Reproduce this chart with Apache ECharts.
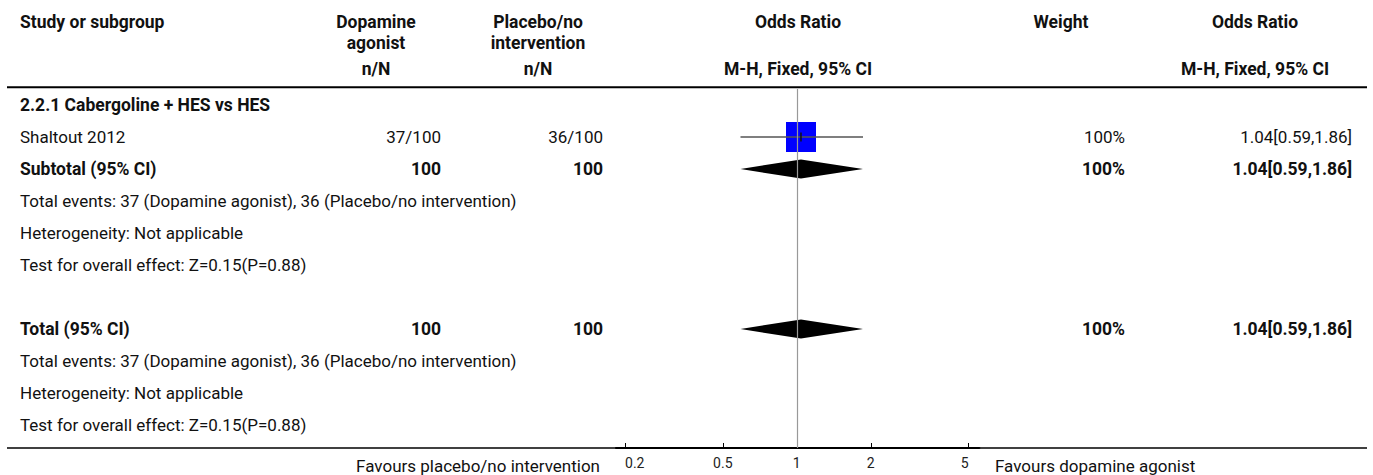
<!DOCTYPE html>
<html>
<head>
<meta charset="utf-8">
<script src="https://cdn.jsdelivr.net/npm/echarts@6/dist/echarts.min.js"></script>
<style>
  html, body { margin: 0; padding: 0; background: #fff; }
  #chart { width: 1373px; height: 475px; }
</style>
</head>
<body>
<div id="chart"></div>
<script>
// ---- data ----------------------------------------------------------------
const rowText = [
  '2.2.1 Cabergoline + HES vs HES',
  'Shaltout 2012',
  'Subtotal (95% CI)',
  'Total events: 37 (Dopamine agonist), 36 (Placebo/no intervention)',
  'Heterogeneity: Not applicable',
  'Test for overall effect: Z=0.15(P=0.88)',
  '',
  'Total (95% CI)',
  'Total events: 37 (Dopamine agonist), 36 (Placebo/no intervention)',
  'Heterogeneity: Not applicable',
  'Test for overall effect: Z=0.15(P=0.88)'
];
// row role: group heading, single study, pooled (subtotal / total), note, blank
const rowKind = ['group', 'study', 'pooled', 'note', 'note', 'note', 'blank', 'pooled', 'note', 'note', 'note'];
const agonistCol = ['', '37/100', '100', '', '', '', '', '100', '', '', ''];
const placeboCol = ['', '36/100', '100', '', '', '', '', '100', '', '', ''];
const oddsRatio = [null, 1.04, 1.04, null, null, null, null, 1.04, null, null, null];
const ciLower   = [null, 0.59, 0.59, null, null, null, null, 0.59, null, null, null];
const ciUpper   = [null, 1.86, 1.86, null, null, null, null, 1.86, null, null, null];
const weightPct = [null, 100, 100, null, null, null, null, 100, null, null, null];
const axisTicks = [0.2, 0.5, 1, 2, 5];
const favoursLeft = 'Favours placebo/no intervention';
const favoursRight = 'Favours dopamine agonist';

// ---- layout & style --------------------------------------------------------
const FONT = 'Roboto, "Open Sans", sans-serif';
const FS = 17;
const FS_BOLD = 17.5;
const TXT = '#111';
const W = 1373, H = 475;
const ROW_TOP = 89;          // top of the plot band, just under the header rule
const ROW_H = 32;
const AXIS_Y = 448;
const PLOT_L = 616, PLOT_R = 979.4;
const X_MIN = -0.7358, X_MAX = 0.7432;  // log10 odds ratio range of the plot
const BOX_MAX = 30;
const DIAMOND_HALF = 9.5;

const col = {
  study:   { x: 20 },
  agonist: { right: 441, center: 376 },
  placebo: { right: 603, center: 538 },
  plot:    { center: 798 },
  weight:  { right: 1125, center: 1061 },
  orText:  { right: 1352, center: 1255 }
};

const fmt2 = v => v.toFixed(2);

// forest marks: [log OR, row, log lo, log hi, weight, kind(0 study / 1 pooled)]
const markData = [];
rowKind.forEach((k, i) => {
  if (oddsRatio[i] == null) return;
  markData.push([
    Math.log10(oddsRatio[i]), i,
    Math.log10(ciLower[i]), Math.log10(ciUpper[i]),
    weightPct[i], k === 'study' ? 0 : 1
  ]);
});

const chart = echarts.init(document.getElementById('chart'), null, { renderer: 'svg', width: W, height: H });

chart.setOption({
  animation: false,
  backgroundColor: '#fff',
  grid: { left: PLOT_L, right: W - PLOT_R, top: ROW_TOP, bottom: H - AXIS_Y, containLabel: false },
  xAxis: {
    type: 'value',
    min: X_MIN, max: X_MAX,
    axisLine: { show: true, onZero: false, lineStyle: { color: '#000', width: 2 } },
    axisTick: {
      show: true, inside: true, length: 5,
      customValues: axisTicks.map(v => Math.log10(v)),
      lineStyle: { color: '#000', width: 1 }
    },
    axisLabel: {
      show: true,
      customValues: axisTicks.map(v => Math.log10(v)),
      formatter: v => {
        const t = axisTicks.find(a => Math.abs(Math.log10(a) - v) < 1e-6);
        return t == null ? '' : String(t);
      },
      alignMinLabel: 'left', alignMaxLabel: 'right',
      margin: 8, color: '#222', fontSize: 14, fontFamily: FONT
    },
    splitLine: { show: false }
  },
  yAxis: {
    type: 'value', inverse: true,
    min: -0.5, max: -0.5 + (AXIS_Y - ROW_TOP) / ROW_H,
    show: false
  },
  series: [
    {
      type: 'line', data: [], silent: true,
      markLine: {
        silent: true, symbol: 'none', label: { show: false },
        lineStyle: { color: '#999', width: 1.2, type: 'solid' },
        data: [{ xAxis: Math.log10(1) }]
      }
    },
    {
      type: 'custom',
      data: markData,
      encode: { x: [0, 2, 3], y: 1 },
      renderItem: (params, api) => {
        const est = api.coord([api.value(0), api.value(1)]);
        const lo = api.coord([api.value(2), api.value(1)]);
        const hi = api.coord([api.value(3), api.value(1)]);
        const kind = api.value(5);
        if (kind === 1) {
          return {
            type: 'polygon',
            shape: { points: [[lo[0], lo[1]], [est[0], est[1] - DIAMOND_HALF], [hi[0], hi[1]], [est[0], est[1] + DIAMOND_HALF]] },
            style: { fill: '#000' }
          };
        }
        const s = BOX_MAX * Math.sqrt(api.value(4) / 100);
        return {
          type: 'group',
          children: [
            { type: 'rect', shape: { x: est[0] - s / 2, y: est[1] - s / 2, width: s, height: s }, style: { fill: '#0000ff' } },
            { type: 'line', shape: { x1: lo[0], y1: lo[1], x2: hi[0], y2: hi[1] }, style: { stroke: '#555', lineWidth: 1.5 } },
            { type: 'line', shape: { x1: est[0], y1: est[1] - 4.5, x2: est[0], y2: est[1] + 4.5 }, style: { stroke: '#111', lineWidth: 1.5 } }
          ]
        };
      }
    }
  ]
});

// ---- table text ------------------------------------------------------------
const rowY = i => chart.convertToPixel({ yAxisIndex: 0 }, i);

function txt(text, x, y, align, bold) {
  return {
    type: 'text', silent: true,
    style: {
      text, x, y, align, verticalAlign: 'middle',
      fontFamily: FONT, fontSize: bold ? FS_BOLD : FS, fontWeight: bold ? 'bold' : 'normal',
      fill: TXT
    }
  };
}

const g = [];
// header
const H1 = 21.7, H2 = 43.3, H3 = 69;
g.push(txt('Study or subgroup', col.study.x, H1, 'left', true));
g.push(txt('Dopamine', col.agonist.center, H1, 'center', true));
g.push(txt('agonist', col.agonist.center, H2, 'center', true));
g.push(txt('Placebo/no', col.placebo.center, H1, 'center', true));
g.push(txt('intervention', col.placebo.center, H2, 'center', true));
g.push(txt('Odds Ratio', col.plot.center, H1, 'center', true));
g.push(txt('Weight', col.weight.center, H1, 'center', true));
g.push(txt('Odds Ratio', col.orText.center, H1, 'center', true));
g.push(txt('n/N', col.agonist.center, H3, 'center', true));
g.push(txt('n/N', col.placebo.center, H3, 'center', true));
g.push(txt('M-H, Fixed, 95% CI', col.plot.center, H3, 'center', true));
g.push(txt('M-H, Fixed, 95% CI', col.orText.center, H3, 'center', true));

// rules
g.push({ type: 'line', silent: true, shape: { x1: 7, y1: 87.3, x2: 1367, y2: 87.3 }, style: { stroke: '#000', lineWidth: 2 } });
g.push({ type: 'line', silent: true, shape: { x1: 7, y1: AXIS_Y, x2: PLOT_L, y2: AXIS_Y }, style: { stroke: '#000', lineWidth: 1.5 } });
g.push({ type: 'line', silent: true, shape: { x1: PLOT_R, y1: AXIS_Y, x2: 1367, y2: AXIS_Y }, style: { stroke: '#000', lineWidth: 1.5 } });

// body rows
rowText.forEach((t, i) => {
  const y = rowY(i);
  const k = rowKind[i];
  const bold = k === 'group' || k === 'pooled';
  if (t) g.push(txt(t, col.study.x, y, 'left', bold));
  if (agonistCol[i]) g.push(txt(agonistCol[i], col.agonist.right, y, 'right', k === 'pooled'));
  if (placeboCol[i]) g.push(txt(placeboCol[i], col.placebo.right, y, 'right', k === 'pooled'));
  if (weightPct[i] != null) g.push(txt(weightPct[i] + '%', col.weight.right, y, 'right', k === 'pooled'));
  if (oddsRatio[i] != null) {
    const s = fmt2(oddsRatio[i]) + '[' + fmt2(ciLower[i]) + ',' + fmt2(ciUpper[i]) + ']';
    g.push(txt(s, col.orText.right, y, 'right', k === 'pooled'));
  }
});

// favours captions beside the axis
const FY = 465.5;
g.push(txt(favoursLeft, 600, FY, 'right', false));
g.push(txt(favoursRight, 995, FY, 'left', false));

chart.setOption({ graphic: { elements: g } });
</script>
</body>
</html>
